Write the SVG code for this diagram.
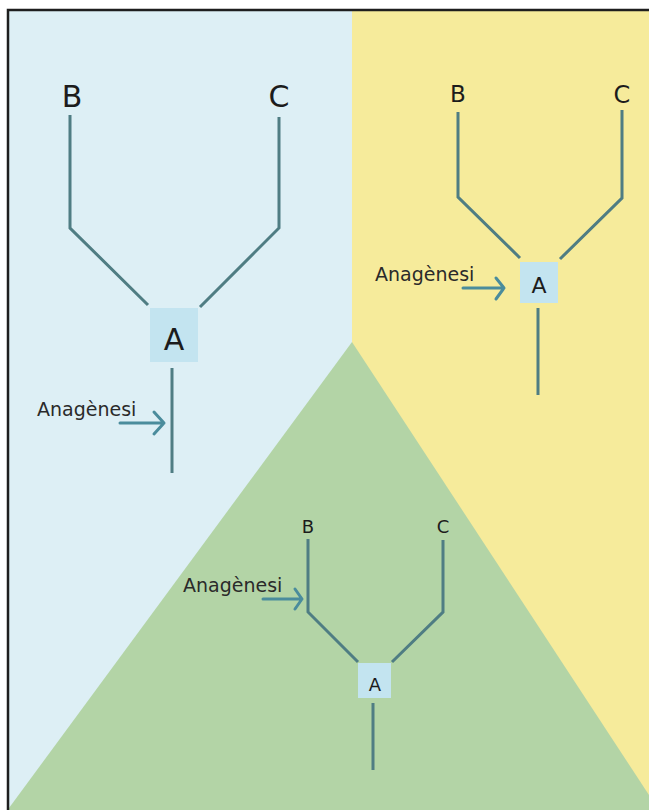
<svg xmlns="http://www.w3.org/2000/svg" width="649" height="810" viewBox="0 0 649 810">
  <style>
    .lbl { font-family: "DejaVu Sans", "Liberation Sans", sans-serif; fill: #1c1c1c; text-anchor: middle; }
    .ana { font-family: "DejaVu Sans", "Liberation Sans", sans-serif; fill: #2a2a2a; font-size: 19px; }
    .box { fill: #c3e4f0; }
    .branch { fill: none; stroke: #4f7d83; stroke-width: 3; stroke-linejoin: miter; stroke-linecap: butt; }
    .arrow { fill: none; stroke: #4a8c9c; stroke-width: 3; stroke-linecap: round; stroke-linejoin: round; }
  </style>

  <!-- background regions -->
  <g id="background">
    <rect x="0" y="0" width="649" height="810" fill="#ffffff"/>
    <rect x="8" y="10" width="344" height="800" fill="#ddeff5"/>
    <rect x="352" y="10" width="297" height="800" fill="#f6eb9b"/>
    <polygon points="352,342 9,808 9,810 649,810 649,795" fill="#b3d4a6"/>
    <!-- frame -->
    <path d="M8,810 V10 H649" fill="none" stroke="#1e1e1e" stroke-width="2.5"/>
  </g>

  <!-- connectors -->
  <g id="connectors">
    <!-- upper-left tree -->
    <polyline class="branch" points="70,115 70,228 148,305"/>
    <polyline class="branch" points="279,117 279,228 200,307"/>
    <line class="branch" x1="172" y1="368" x2="172" y2="473"/>
    <path class="arrow" d="M120,423 H164 M154,412 L164,423 L154,434"/>

    <!-- upper-right tree -->
    <polyline class="branch" points="458,112 458,197 520,258"/>
    <polyline class="branch" points="622,110 622,198 560,259"/>
    <line class="branch" x1="538" y1="308" x2="538" y2="395"/>
    <path class="arrow" d="M463,288 H504 M496,278 L504,288 L496,299"/>

    <!-- bottom tree -->
    <polyline class="branch" points="308,539 308,612 358,662"/>
    <polyline class="branch" points="443,540 443,612 392,662"/>
    <line class="branch" x1="373" y1="703" x2="373" y2="770"/>
    <path class="arrow" d="M263,599 H302 M295,589 L302,599 L295,609"/>
  </g>

  <!-- upper-left tree nodes -->
  <g id="tree1-B"><text class="lbl" x="72" y="107" font-size="30">B</text></g>
  <g id="tree1-C"><text class="lbl" x="279" y="107" font-size="30">C</text></g>
  <g id="tree1-A">
    <rect class="box" x="150" y="308" width="48" height="54"/>
    <text class="lbl" x="174" y="350" font-size="30">A</text>
  </g>
  <g id="tree1-label"><text class="ana" x="37" y="416">Anagènesi</text></g>

  <!-- upper-right tree nodes -->
  <g id="tree2-B"><text class="lbl" x="458" y="102" font-size="23">B</text></g>
  <g id="tree2-C"><text class="lbl" x="622" y="103" font-size="24">C</text></g>
  <g id="tree2-A">
    <rect class="box" x="520" y="262" width="38" height="41"/>
    <text class="lbl" x="539" y="293" font-size="22">A</text>
  </g>
  <g id="tree2-label"><text class="ana" x="375" y="281">Anagènesi</text></g>

  <!-- bottom tree nodes -->
  <g id="tree3-B"><text class="lbl" x="308" y="533" font-size="18">B</text></g>
  <g id="tree3-C"><text class="lbl" x="443" y="533" font-size="18">C</text></g>
  <g id="tree3-A">
    <rect class="box" x="358" y="663" width="33" height="35"/>
    <text class="lbl" x="375" y="691" font-size="18">A</text>
  </g>
  <g id="tree3-label"><text class="ana" x="183" y="592">Anagènesi</text></g>
</svg>
